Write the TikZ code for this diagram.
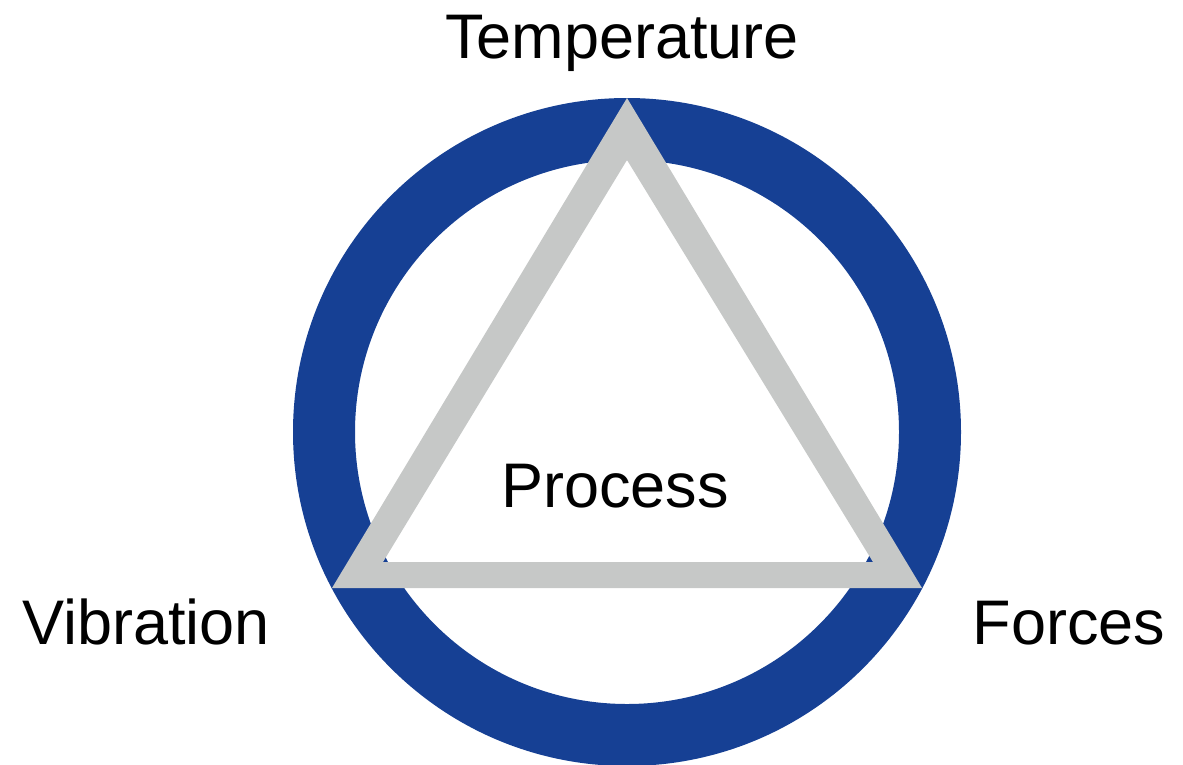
\documentclass[tikz,border=0pt]{standalone}
\usepackage{fontspec}
\setmainfont{Liberation Sans}
\definecolor{ringblue}{RGB}{22,64,148}
\definecolor{trigray}{RGB}{198,200,199}
\begin{document}
\begin{tikzpicture}[x=1pt,y=-1pt,
  label/.style={inner sep=0pt,anchor=base,font=\fontsize{63}{75}\selectfont}]
\useasboundingbox (0,0) rectangle (1183,764);
% blue ring
\fill[ringblue,even odd rule] (627,432) circle[radius=334] (627,432) circle[radius=272];
% grey triangle frame
\fill[trigray,even odd rule] (627,98) -- (332,588) -- (922,588) -- cycle
  (627,160) -- (383,562) -- (873,562) -- cycle;
% labels
\node[label] (temp) at (622,58) {Temperature};
\node[label] (vib) at (146,644) {Vibration};
\node[label] (forces) at (1069,644) {Forces};
\node[label] (proc) at (615,507) {Process};
\end{tikzpicture}
\end{document}
